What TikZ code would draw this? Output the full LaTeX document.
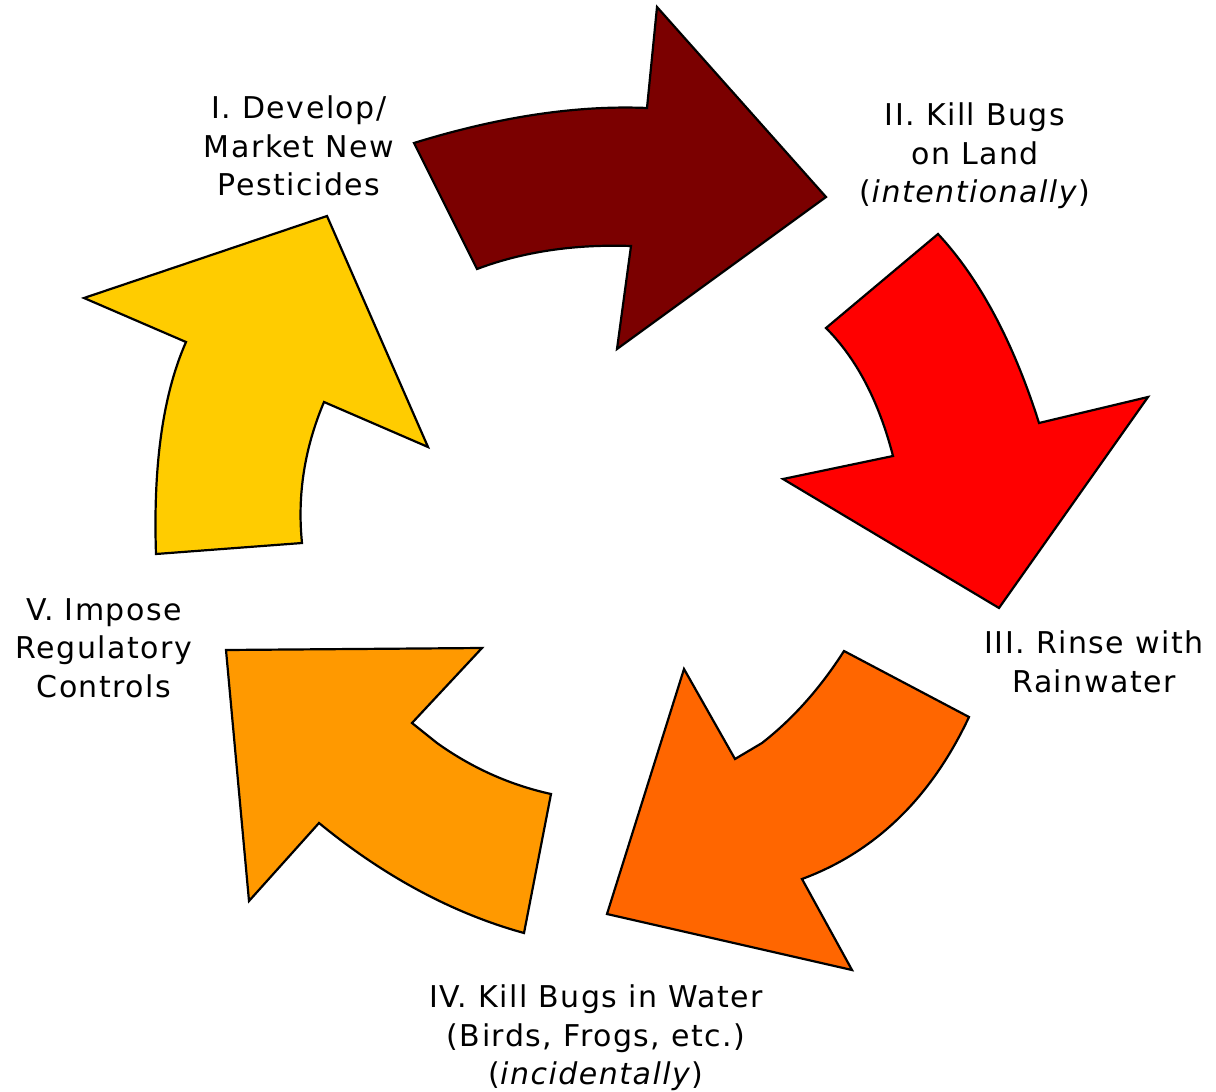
\documentclass[tikz,border=0pt]{standalone}
\usepackage{fontspec}
\setmainfont[LetterSpace=5]{DejaVu Sans}
\usetikzlibrary{positioning}
\definecolor{stepone}{RGB}{123,0,0}
\definecolor{steptwo}{RGB}{255,0,0}
\definecolor{stepthree}{RGB}{255,102,0}
\definecolor{stepfour}{RGB}{255,153,0}
\definecolor{stepfive}{RGB}{255,204,0}
\tikzstyle{bigarrow}=[draw=black,line width=2.2pt,line join=miter]
\tikzstyle{caption}=[align=center,font=\fontsize{30}{38.5}\selectfont,inner sep=0pt]

\begin{document}
\begin{tikzpicture}[x=1pt,y=-1pt]
            \useasboundingbox (0,0) rectangle (1216,1092);

            % ARROWS

            \path[bigarrow,fill=stepone] (414,143) .. controls (498,117) and (576,105) .. (647,108)
                -- (657,7) -- (826,197) -- (617,349) -- (631,246)
                .. controls (574,244) and (522,252) .. (477,269) -- cycle;
            \path[bigarrow,fill=steptwo] (938,234) -- (826,328)
                .. controls (857,359) and (879,402) .. (893,456) -- (783,479) -- (999,608)
                -- (1148,397) -- (1039,423) .. controls (1013,341) and (979,278) .. (938,234) -- cycle;
            \path[bigarrow,fill=stepthree] (844,651) -- (969,717)
                .. controls (931,798) and (875,852) .. (802,879) -- (852,970) -- (607,914)
                -- (684,669) -- (735,759) -- (762,743) .. controls (794,718) and (821,687) .. (844,651) -- cycle;
            \path[bigarrow,fill=stepfour] (226,650) -- (482,648) -- (412,723) -- (437,743)
                .. controls (472,768) and (510,785) .. (551,794) -- (524,933)
                .. controls (455,914) and (386,878) .. (319,823) -- (249,901) -- cycle;
            \path[bigarrow,fill=stepfive] (156,554) -- (302,543)
                .. controls (297,494) and (305,447) .. (324,402) -- (428,447) -- (327,216)
                -- (84,298) -- (186,342) .. controls (163,394) and (153,465) .. (156,554) -- cycle;

            % LABELS

            \node[caption] (develop) at (299,146) {I. Develop/\\Market New\\Pesticides};
            \node[caption] (land) at (975,156) {II. Kill Bugs\\on Land\\(\textit{intentionally})};
            \node[caption] (rinse) at (1094,662) {III. Rinse with\\Rainwater};
            \node[caption] (water) at (596,1038) {IV. Kill Bugs in Water\\(Birds, Frogs, etc.)\\(\textit{incidentally})};
            \node[caption] (impose) at (104,648) {V. Impose\\Regulatory\\Controls};

        \end{tikzpicture}
\end{document}
